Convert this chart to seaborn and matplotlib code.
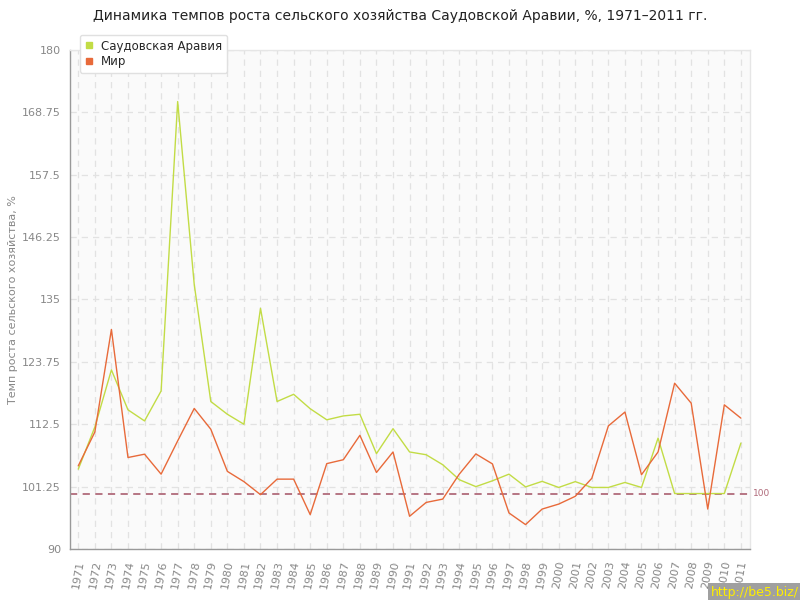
import pandas as pd
import matplotlib
matplotlib.use("Agg")
import matplotlib.pyplot as plt
import seaborn as sns
from matplotlib.lines import Line2D

years = list(range(1971, 2012))
saudi = [104.4, 112.0, 122.3, 115.1, 113.1, 118.5, 170.7, 137.7, 116.6, 114.3,
         112.5, 133.4, 116.6, 117.9, 115.3, 113.3, 114.0, 114.3, 107.2, 111.7,
         107.5, 107.0, 105.2, 102.5, 101.25, 102.3, 103.5, 101.2, 102.2, 101.1,
         102.15, 101.1, 101.1, 102.0, 101.1, 110.0, 100.0, 100.0, 100.0, 100.0,
         109.1]
world = [105.0, 111.1, 129.6, 106.5, 107.1, 103.5, 109.5, 115.35, 111.6, 104.0,
         102.15, 99.8, 102.6, 102.6, 96.2, 105.4, 106.1, 110.5, 103.8, 107.5,
         95.9, 98.4, 99.0, 103.5, 107.15, 105.35, 96.5, 94.4, 97.2, 98.1,
         99.5, 102.75, 112.2, 114.7, 103.4, 107.5, 119.9, 116.3, 97.2, 116.0,
         113.6]
series_names = ["Саудовская Аравия", "Мир"]
y_ticks = [90, 101.25, 112.5, 123.75, 135, 146.25, 157.5, 168.75, 180]
y_tick_labels = ["90", "101.25", "112.5", "123.75", "135", "146.25", "157.5", "168.75", "180"]
base_level = 100

colors = {"Саудовская Аравия": "#c2dc45", "Мир": "#e86a3a"}

df = pd.concat([
    pd.DataFrame({"year": years, "value": saudi, "series": series_names[0]}),
    pd.DataFrame({"year": years, "value": world, "series": series_names[1]}),
])

sns.set_style("white")
plt.rcParams["font.family"] = ["DejaVu Sans"]

fig = plt.figure(figsize=(8, 6), dpi=100)
ax = fig.add_axes([0.0875, 0.085, 0.85, 0.8317])
ax.set_facecolor("#fafafa")

sns.lineplot(data=df, x="year", y="value", hue="series", palette=colors,
             linewidth=1, legend=False, ax=ax, zorder=3)

ax.axhline(base_level, color="#b06a7a", linestyle=(0, (4, 3)), linewidth=1.3, zorder=2)
ax.text(2011.75, base_level, "100", color="#b06a7a", fontsize=6.5, va="center", ha="left")

ax.set_xlim(1970.5, 2011.55)
ax.set_ylim(90, 180)
ax.set_yticks(y_ticks)
ax.set_yticklabels(y_tick_labels)
ax.set_xticks(years)
ax.set_xticklabels([str(y) for y in years], rotation=80)

ax.grid(True, color="#e2e2e2", linestyle=(0, (5, 4)), linewidth=0.9)
ax.set_axisbelow(True)

for side in ["left", "bottom"]:
    ax.spines[side].set_color("#999999")
    ax.spines[side].set_linewidth(1)
for side in ["right", "top"]:
    ax.spines[side].set_color("#e6e6e6")
    ax.spines[side].set_linewidth(1)

ax.tick_params(axis="both", colors="#999999", labelcolor="#888888", labelsize=8,
               length=5, width=1, direction="out")
ax.tick_params(axis="y", pad=1.5)
ax.tick_params(axis="x", pad=3)
ax.set_xlabel("")
ax.set_ylabel("Темп роста сельского хозяйства, %", color="#888888", fontsize=8, labelpad=3)

fig.suptitle("Динамика темпов роста сельского хозяйства Саудовской Аравии, %, 1971–2011 гг.",
             fontsize=10, color="#222222", y=0.985)

handles = [Line2D([0], [0], marker="s", linestyle="none", markersize=5,
                  markerfacecolor=colors[n], markeredgecolor=colors[n]) for n in series_names]
leg = fig.legend(handles, series_names, loc="upper left", bbox_to_anchor=(0.1, 0.942),
                 borderaxespad=0, fontsize=8.5, frameon=True, fancybox=True, shadow=False,
                 handlelength=0.8, handletextpad=0.6, labelspacing=0.2,
                 borderpad=0.4, framealpha=1)
leg.get_frame().set_edgecolor("#e0e0e0")
leg.get_frame().set_facecolor("white")
leg.set_zorder(10)

fig.text(0.998, 0.002, "http://be5.biz/", color="#ffee00", fontsize=9, ha="right", va="bottom",
         bbox=dict(facecolor="#a0a0a0", edgecolor="none", pad=2))

fig.savefig("out.png", dpi=100)
